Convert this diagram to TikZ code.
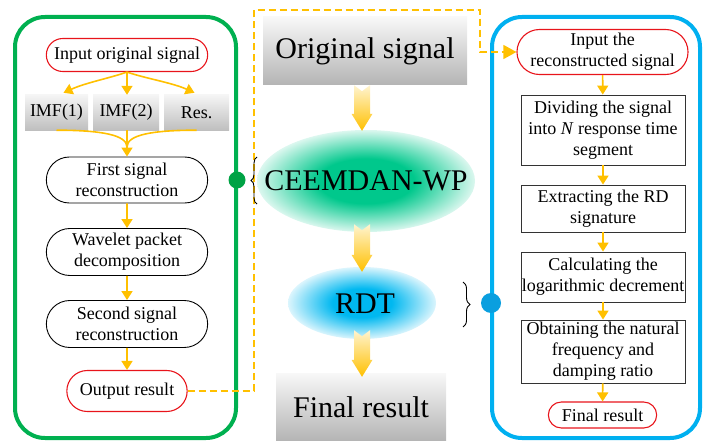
\documentclass[tikz,border=0pt]{standalone}
\usepackage{fontspec}
\setmainfont{Liberation Serif}
\newfontfamily\figfont{Liberation Serif}
\usetikzlibrary{arrows.meta,calc,decorations.pathreplacing,shapes.misc,shapes.geometric}

\definecolor{boxgreen}{HTML}{00B050}
\definecolor{dotgreen}{HTML}{00A345}
\definecolor{boxblue}{HTML}{00B0F0}
\definecolor{dotblue}{HTML}{0A9FDF}
\definecolor{flow}{HTML}{FFC000}
\definecolor{arrowtop}{HTML}{FFF4D0}
\definecolor{startred}{HTML}{E8141B}
\definecolor{glowgreen}{HTML}{00C88C}
\definecolor{glowblue}{HTML}{00B8F0}
\definecolor{shadetop}{HTML}{F8F8F8}
\definecolor{shadebot}{HTML}{B4B4B4}
\colorlet{greenrim}{glowgreen!14!white}
\colorlet{bluerim}{glowblue!14!white}

% soft glows: the path edge sits at 25bp of the shading
\pgfdeclareradialshading{greenglow}{\pgfpoint{0bp}{0bp}}{color(0bp)=(glowgreen); color(11bp)=(glowgreen); color(25bp)=(greenrim); color(50bp)=(greenrim)}
\pgfdeclareradialshading{blueglow}{\pgfpoint{0bp}{0bp}}{color(0bp)=(glowblue); color(10bp)=(glowblue); color(25bp)=(bluerim); color(50bp)=(bluerim)}

% wide yellow arrow with a notched tail, from #1 (top) down to #2 (tip)
\newcommand\fatarrow[2]{%
  \shade[top color=arrowtop, bottom color=flow]
    let \p1=#1, \p2=#2 in
    (\x1-8pt,\y1) -- (\x1,\y1-6pt) -- (\x1+8pt,\y1) -- (\x1+8pt,\y2+17pt)
    -- (\x1+10.5pt,\y2+17pt) -- (\x1,\y2) -- (\x1-10.5pt,\y2+17pt)
    -- (\x1-8pt,\y2+17pt) -- cycle;}

\tikzset{
  txt/.style={font=\figfont\fontsize{18}{21}\selectfont, align=center},
  bigtext/.style={font=\figfont\fontsize{30}{34}\selectfont, align=center},
  term/.style={txt, rounded rectangle, draw=startred, line width=1.1pt, inner ysep=2pt},
  proc/.style={txt, rounded rectangle, draw=black, line width=0.9pt, inner ysep=1pt},
  stepbox/.style={txt, rectangle, draw=black!80, line width=0.9pt, minimum width=164pt, inner xsep=0pt, inner ysep=1pt},
  imfbox/.style={txt, rectangle, top color=gray!8, bottom color=gray!50, minimum height=35pt, inner xsep=0pt},
  bigbox/.style={bigtext, rectangle, top color=shadetop, bottom color=shadebot},
  flowarrow/.style={draw=flow, line width=1.6pt, -{Triangle[length=9pt,width=11pt]}},
  flowline/.style={draw=flow, line width=1.6pt},
  dashlink/.style={draw=flow, line width=1.3pt, dash pattern=on 7pt off 4pt, -{Triangle[length=13pt,width=14pt]}},
  glow/.style={ellipse, inner sep=0pt},
}

\begin{document}
\begin{tikzpicture}[x=1pt, y=1pt]
\clip (0,0) rectangle (703,-441);

% ---------- frames ----------
\draw[boxgreen, line width=4pt, rounded corners=30pt] (15,-17) rectangle (236,-438);
\draw[boxblue, line width=4pt, rounded corners=30pt] (492,-17) rectangle (700,-438);

% ---------- left column: CEEMDAN-WP steps ----------
\node[term, minimum width=168pt, minimum height=33pt] (in1) at (127,-55) {Input original signal};
\node[imfbox, minimum width=63pt] (imf1) at (56.5,-112.5) {IMF(1)};
\node[imfbox, minimum width=66pt] (imf2) at (126,-112.5) {IMF(2)};
\node[imfbox, minimum width=65pt] (res) at (196.5,-112.5) {Res.};
\node[proc, minimum width=168pt, minimum height=46pt] (rec1) at (127,-180) {First signal\\reconstruction};
\node[proc, minimum width=168pt, minimum height=47pt] (wpd) at (127,-252) {Wavelet packet\\decomposition};
\node[proc, minimum width=168pt, minimum height=47pt] (rec2) at (127,-324) {Second signal\\reconstruction};
\node[term, minimum width=127pt, minimum height=41pt] (out1) at (127,-391) {Output result};
\coordinate (mrg) at (127,-147);

\draw[flowarrow] (in1.south) .. controls +(-17,-6) and +(22,10) .. ($(imf1.north)+(7,2)$);
\draw[flowarrow] (in1.south) -- (in1.south |- imf2.north);
\draw[flowarrow] (in1.south) .. controls +(17,-6) and +(-22,10) .. ($(res.north)+(-2,2)$);
\draw[flowline] (imf1.south) .. controls +(45,0) and +(0,12) .. (mrg);
\draw[flowline] (res.south) .. controls +(-45,0) and +(0,12) .. (mrg);
\draw[flowarrow] (rec1.north |- imf2.south) -- (rec1.north);
\draw[flowarrow] (rec1) -- (wpd);
\draw[flowarrow] (wpd) -- (rec2);
\draw[flowarrow] (rec2) -- (out1);

% ---------- middle column ----------
\node[bigbox, minimum width=204pt, minimum height=68pt] (orig) at (365,-51) {Original signal};
\node[glow, shading=greenglow, minimum width=218pt, minimum height=102pt] (g1) at (366,-181) {};
\node[bigtext] (ceem) at (g1) {CEEMDAN-WP};
\node[glow, shading=blueglow, minimum width=148pt, minimum height=72pt] (g2) at (362,-303) {};
\node[bigtext] (rdt) at (365,-304) {RDT};
\node[bigbox, minimum width=170pt, minimum height=68pt] (fin) at (361,-407) {Final result};

\fatarrow{($(orig.south)+(-3,0)$)}{($(g1.north)+(-4,-1)$)}
\fatarrow{($(g1.south)+(-4,8)$)}{($(g2.north)+(0,-5)$)}
\fatarrow{($(g2.south)+(0,9)$)}{($(fin.north)+(1,-4)$)}

% ---------- right column: RDT steps ----------
\node[term, minimum width=169pt, minimum height=45pt] (in2) at (602.5,-52) {Input the\\reconstructed signal};
\node[stepbox, minimum height=70pt] (div) at (603,-130) {Dividing the signal\\into \textit{N} response time\\segment};
\node[stepbox, minimum height=47pt] (ext) at (603,-208.5) {Extracting the RD\\signature};
\node[stepbox, minimum height=50pt] (calc) at (603,-277) {Calculating the\\logarithmic decrement};
\node[stepbox, minimum height=63pt] (obt) at (603,-351.5) {Obtaining the natural\\frequency and\\damping ratio};
\node[term, minimum width=115pt, minimum height=26pt] (fin2) at (602.5,-415) {Final result};

\draw[flowarrow] (in2) -- (div);
\draw[flowarrow] (div) -- (ext);
\draw[flowarrow] (ext) -- (calc);
\draw[flowarrow] (calc) -- (obt);
\draw[flowarrow] (obt) -- (fin2);

% ---------- links between the parts ----------
\coordinate (dl) at (254,-10);
\coordinate (dr) at (480,-10);
\draw[dashlink] (out1.east) -| (dl) -- (dr) |- (in2.west);

\draw[decorate, decoration={brace, amplitude=6pt}, line width=0.9pt] (257,-204) -- (257,-157);
\draw[decorate, decoration={brace, amplitude=7pt}, line width=0.9pt] (463,-282) -- (463,-327);
\fill[dotgreen] (237,-180) circle (8.5);
\fill[dotblue] (491,-303) circle (10);
\end{tikzpicture}
\end{document}
